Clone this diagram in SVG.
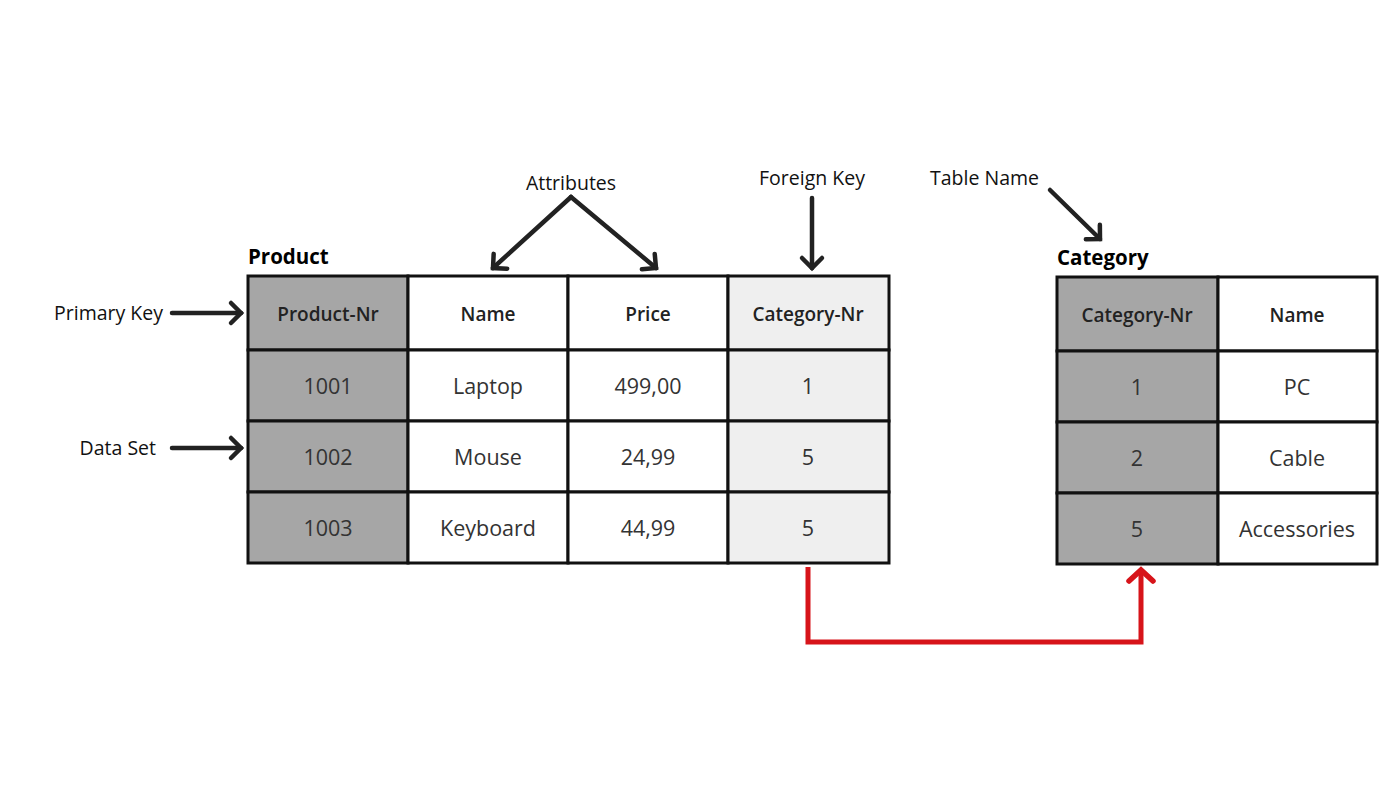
<svg xmlns="http://www.w3.org/2000/svg" width="1400" height="810" viewBox="0 0 1400 810">
<defs>
<marker id="ah" markerUnits="userSpaceOnUse" markerWidth="30" markerHeight="30" viewBox="-15 -15 30 30" refX="0" refY="0" orient="auto">
<path d="M-10,-10 L0,0 L-10,10" fill="none" stroke="#222" stroke-width="4.5" stroke-linecap="round" stroke-linejoin="miter"/>
</marker>
<marker id="ahr" markerUnits="userSpaceOnUse" markerWidth="30" markerHeight="30" viewBox="-15 -15 30 30" refX="0" refY="0" orient="auto">
<path d="M-11,-12 L0,0 L-11,12" fill="none" stroke="#d7141a" stroke-width="5.5" stroke-linecap="round" stroke-linejoin="miter"/>
</marker>
</defs>
<style>
.cell{stroke:#111;stroke-width:3}
.pk{fill:#a6a6a6}
.fk{fill:#efefef}
.wh{fill:#ffffff}
.hd{font-family:"Open Sans","Liberation Sans",sans-serif;font-size:19px;font-weight:600;fill:#222;text-anchor:middle}
.dt{font-family:"Open Sans","Liberation Sans",sans-serif;font-size:21.5px;fill:#333;text-anchor:middle}
.lb{font-family:"Open Sans","Liberation Sans",sans-serif;font-size:19.5px;fill:#111}
.tt{font-family:"Open Sans","Liberation Sans",sans-serif;font-size:20.5px;font-weight:700;fill:#000}
.ar{fill:none;stroke:#222;stroke-width:4.5;stroke-linecap:round}
</style>
<rect width="1400" height="810" fill="#fff"/>

<g id="product">
<text class="tt" x="248" y="264">Product</text>
<rect class="cell pk" x="248" y="276" width="160" height="74"/>
<rect class="cell wh" x="408" y="276" width="160" height="74"/>
<rect class="cell wh" x="568" y="276" width="160" height="74"/>
<rect class="cell fk" x="728" y="276" width="161" height="74"/>
<rect class="cell pk" x="248" y="350" width="160" height="71"/>
<rect class="cell wh" x="408" y="350" width="160" height="71"/>
<rect class="cell wh" x="568" y="350" width="160" height="71"/>
<rect class="cell fk" x="728" y="350" width="161" height="71"/>
<rect class="cell pk" x="248" y="421" width="160" height="71"/>
<rect class="cell wh" x="408" y="421" width="160" height="71"/>
<rect class="cell wh" x="568" y="421" width="160" height="71"/>
<rect class="cell fk" x="728" y="421" width="161" height="71"/>
<rect class="cell pk" x="248" y="492" width="160" height="71"/>
<rect class="cell wh" x="408" y="492" width="160" height="71"/>
<rect class="cell wh" x="568" y="492" width="160" height="71"/>
<rect class="cell fk" x="728" y="492" width="161" height="71"/>
<text class="hd" x="328" y="321">Product-Nr</text>
<text class="hd" x="488" y="321">Name</text>
<text class="hd" x="648" y="321">Price</text>
<text class="hd" x="808" y="321">Category-Nr</text>
<text class="dt" x="328" y="394">1001</text>
<text class="dt" x="488" y="394">Laptop</text>
<text class="dt" x="648" y="394">499,00</text>
<text class="dt" x="808" y="394">1</text>
<text class="dt" x="328" y="465">1002</text>
<text class="dt" x="488" y="465">Mouse</text>
<text class="dt" x="648" y="465">24,99</text>
<text class="dt" x="808" y="465">5</text>
<text class="dt" x="328" y="536">1003</text>
<text class="dt" x="488" y="536">Keyboard</text>
<text class="dt" x="648" y="536">44,99</text>
<text class="dt" x="808" y="536">5</text>
</g>

<g id="category">
<text class="tt" x="1057" y="265">Category</text>
<rect class="cell pk" x="1057" y="277" width="161" height="74"/>
<rect class="cell wh" x="1218" y="277" width="159" height="74"/>
<rect class="cell pk" x="1057" y="351" width="161" height="71"/>
<rect class="cell wh" x="1218" y="351" width="159" height="71"/>
<rect class="cell pk" x="1057" y="422" width="161" height="71"/>
<rect class="cell wh" x="1218" y="422" width="159" height="71"/>
<rect class="cell pk" x="1057" y="493" width="161" height="71"/>
<rect class="cell wh" x="1218" y="493" width="159" height="71"/>
<text class="hd" x="1137" y="322">Category-Nr</text>
<text class="hd" x="1297" y="322">Name</text>
<text class="dt" x="1137" y="395">1</text>
<text class="dt" x="1297" y="395">PC</text>
<text class="dt" x="1137" y="466">2</text>
<text class="dt" x="1297" y="466">Cable</text>
<text class="dt" x="1137" y="537">5</text>
<text class="dt" x="1297" y="537">Accessories</text>
</g>

<g id="labels">
<text class="lb" x="571" y="190" text-anchor="middle">Attributes</text>
<text class="lb" x="812" y="185" text-anchor="middle">Foreign Key</text>
<text class="lb" x="930" y="185">Table Name</text>
<text class="lb" x="163" y="320" text-anchor="end">Primary Key</text>
<text class="lb" x="156" y="455" text-anchor="end">Data Set</text>
</g>

<g id="connectors">
<line class="ar" x1="172" y1="313" x2="241" y2="313" marker-end="url(#ah)"/>
<line class="ar" x1="172" y1="448" x2="241" y2="448" marker-end="url(#ah)"/>
<line class="ar" x1="571" y1="197" x2="493" y2="268" marker-end="url(#ah)"/>
<line class="ar" x1="571" y1="197" x2="656" y2="268" marker-end="url(#ah)"/>
<line class="ar" x1="812" y1="198" x2="812" y2="268" marker-end="url(#ah)"/>
<line class="ar" x1="1050" y1="190" x2="1100" y2="239" marker-end="url(#ah)"/>
<path d="M808,567 L808,642 L1141,642 L1141,570" fill="none" stroke="#d7141a" stroke-width="5" stroke-linejoin="miter" marker-end="url(#ahr)"/>
</g>
</svg>
